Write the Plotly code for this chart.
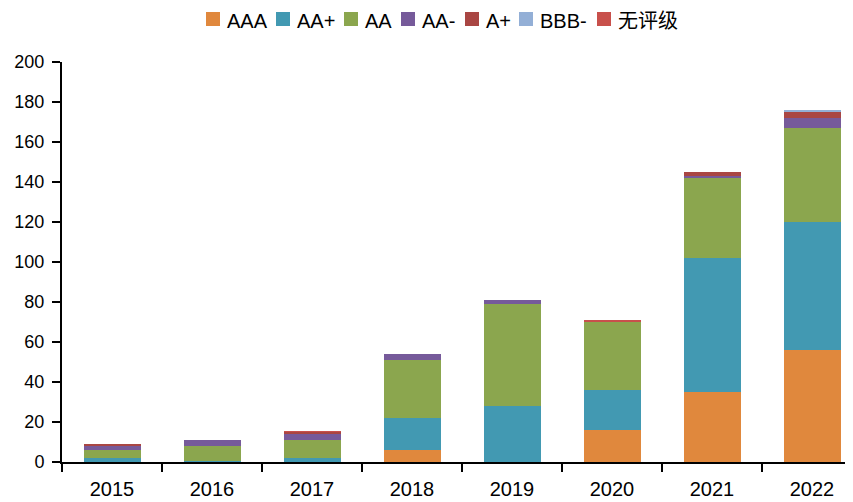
import plotly.graph_objects as go

years = ["2015", "2016", "2017", "2018", "2019", "2020", "2021", "2022"]
series_names = ["AAA", "AA+", "AA", "AA-", "A+", "BBB-", "无评级"]
aaa = [0, 0, 0, 6, 0, 16, 35, 56]
aa_plus = [2, 0.6, 2, 16, 28, 20, 67, 64]
aa = [4, 7.4, 9, 29, 51, 34, 40, 47]
aa_minus = [2, 3, 3, 3, 2, 0, 1, 5]
a_plus = [1, 0, 1, 0, 0, 0, 2, 3]
bbb_minus = [0, 0, 0, 0, 0, 0, 0, 1]
unrated = [0, 0, 0.3, 0, 0, 1, 0, 0]
colors = ["#E0883D", "#4299B2", "#8BA64E", "#765A9A", "#A94643", "#93AFD6", "#C8504B"]

values = [aaa, aa_plus, aa, aa_minus, a_plus, bbb_minus, unrated]

# layout geometry (pixels)
L, T, PW, PH = 54, 54, 800, 400
BODY = 8  # default page margin of the html body


def px_to_paper_x(px):
    return (px - BODY - L) / PW


def px_to_paper_y(py):
    return 1 - (py - BODY - T) / PH


fig = go.Figure()
for name, vals, c in zip(series_names, values, colors):
    fig.add_trace(go.Bar(x=years, y=vals, name=name, marker=dict(color=c, line=dict(width=0))))

font_family = "Liberation Sans, Arial, Noto Sans CJK SC, sans-serif"

# custom compact legend (swatch + label)
legend_starts = [206, 276, 344, 401, 465, 519, 597]
sw = 14
cy_sw = 19
cy_txt = 21
shapes = []
annotations = []
for start, name, c in zip(legend_starts, series_names, colors):
    shapes.append(dict(type="rect", xref="paper", yref="paper",
                       x0=px_to_paper_x(start), x1=px_to_paper_x(start + sw),
                       y0=px_to_paper_y(cy_sw + sw / 2), y1=px_to_paper_y(cy_sw - sw / 2),
                       fillcolor=c, line=dict(width=0), layer="above"))
    annotations.append(dict(text=name, xref="paper", yref="paper",
                            x=px_to_paper_x(start + 19), y=px_to_paper_y(cy_txt),
                            xanchor="left", yanchor="middle", showarrow=False,
                            font=dict(size=20, family=font_family, color="#000000")))

fig.update_layout(
    barmode="stack",
    bargap=0.43,
    width=L + PW, height=494,
    margin=dict(l=L, r=0, t=T, b=40),
    paper_bgcolor="white", plot_bgcolor="white",
    font=dict(family=font_family, size=18, color="#000000"),
    showlegend=False,
    shapes=shapes,
    annotations=annotations,
    xaxis=dict(type="category", tickson="boundaries", ticks="outside", ticklen=8, tickwidth=2,
               showline=True, linecolor="black", linewidth=2, showgrid=False, tickcolor="black",
               tickfont=dict(size=20), ticklabelstandoff=8),
    yaxis=dict(range=[0, 200], dtick=20, ticks="outside", ticklen=8, tickwidth=2, tickcolor="black",
               showline=True, linecolor="black", linewidth=2, showgrid=False, zeroline=False,
               tickfont=dict(size=18), ticklabelstandoff=4),
)
fig.write_html("out.html")
